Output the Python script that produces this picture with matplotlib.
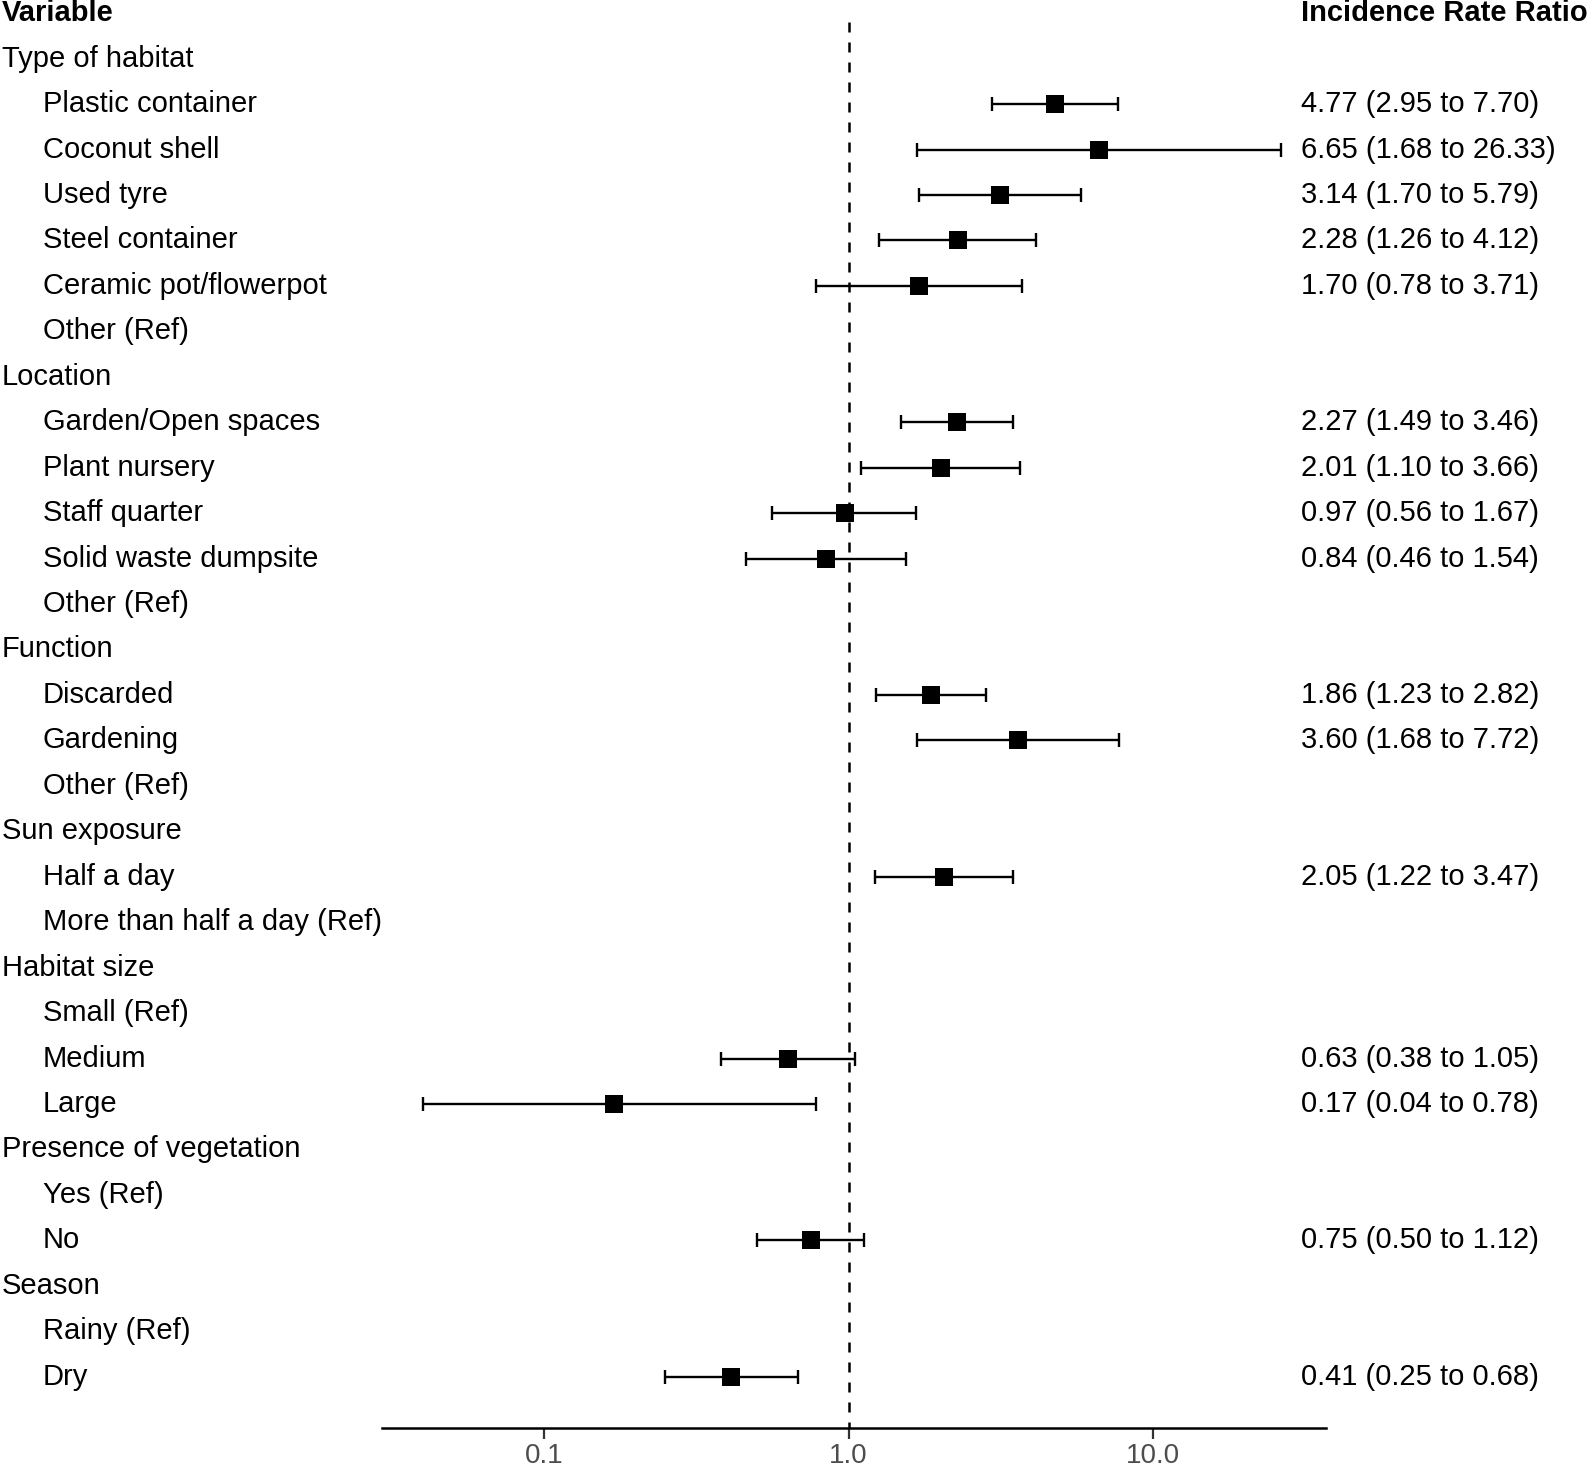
import numpy as np
import matplotlib.pyplot as plt
from matplotlib.transforms import blended_transform_factory

# rows of the table
labels = [
    "Type of habitat", "Plastic container", "Coconut shell", "Used tyre",
    "Steel container", "Ceramic pot/flowerpot", "Other (Ref)",
    "Location", "Garden/Open spaces", "Plant nursery", "Staff quarter",
    "Solid waste dumpsite", "Other (Ref)",
    "Function", "Discarded", "Gardening", "Other (Ref)",
    "Sun exposure", "Half a day", "More than half a day (Ref)",
    "Habitat size", "Small (Ref)", "Medium", "Large",
    "Presence of vegetation", "Yes (Ref)", "No",
    "Season", "Rainy (Ref)", "Dry",
]
headers = ["Type of habitat", "Location", "Function", "Sun exposure",
           "Habitat size", "Presence of vegetation", "Season"]

# incidence rate ratios (None = reference / header row)
irr = [None, 4.77, 6.65, 3.14, 2.28, 1.70, None,
       None, 2.27, 2.01, 0.97, 0.84, None,
       None, 1.86, 3.60, None,
       None, 2.05, None,
       None, None, 0.63, 0.17,
       None, None, 0.75,
       None, None, 0.41]
lower = [None, 2.95, 1.68, 1.70, 1.26, 0.78, None,
         None, 1.49, 1.10, 0.56, 0.46, None,
         None, 1.23, 1.68, None,
         None, 1.22, None,
         None, None, 0.38, 0.04,
         None, None, 0.50,
         None, None, 0.25]
upper = [None, 7.70, 26.33, 5.79, 4.12, 3.71, None,
         None, 3.46, 3.66, 1.67, 1.54, None,
         None, 2.82, 7.72, None,
         None, 3.47, None,
         None, None, 1.05, 0.78,
         None, None, 1.12,
         None, None, 0.68]

W, H = 1594, 1469
fig = plt.figure(figsize=(W / 100, H / 100), dpi=100)
plt.rcParams['font.family'] = ['Liberation Sans', 'DejaVu Sans']
fs = 21

ax_left, ax_right = 382 / W, 1326 / W
ax_bottom = 1 - 1428 / H
ax = fig.add_axes([ax_left, ax_bottom, ax_right - ax_left, 1 - ax_bottom])
ax.set_xscale('log')
ax.set_xlim(0.0293, 37.0)
ax.set_ylim(31.13, -0.29)

rows = np.arange(1, len(labels) + 1)

# dashed null line
ax.vlines(1.0, 0.2, 31.13, colors='black', linestyles=(0, (4, 4)), linewidth=1.8)

for r, est, lo, hi in zip(rows, irr, lower, upper):
    if est is None:
        continue
    ax.errorbar(est, r, xerr=[[est - lo], [hi - est]], fmt='none', ecolor='black',
                capsize=4.8, elinewidth=1.7, capthick=1.7)
    ax.plot(est, r, 's', color='black', ms=13.5, mew=0)

for s in ['top', 'left', 'right']:
    ax.spines[s].set_visible(False)
ax.spines['bottom'].set_linewidth(1.8)
ax.set_yticks([])
ax.set_xticks([0.1, 1.0, 10.0])
ax.set_xticklabels(["0.1", "1.0", "10.0"], fontsize=20, color='#4d4d4d')
ax.xaxis.set_minor_locator(plt.NullLocator())
ax.tick_params(axis='x', length=8, width=1.6, pad=3, color='#333333')

# text columns
tr = blended_transform_factory(fig.transFigure, ax.transData)
ax.text(2 / W, 0, "Variable", transform=tr, fontsize=fs, fontweight='bold',
        va='center', ha='left', clip_on=False)
ax.text(1301 / W, 0, "Incidence Rate Ratio", transform=tr, fontsize=fs,
        fontweight='bold', va='center', ha='left', clip_on=False)
for r, lab, est, lo, hi in zip(rows, labels, irr, lower, upper):
    x = 2 / W if lab in headers else 43 / W
    ax.text(x, r, lab, transform=tr, fontsize=fs, va='center', ha='left', clip_on=False)
    if est is not None:
        ax.text(1301 / W, r, f"{est:.2f} ({lo:.2f} to {hi:.2f})", transform=tr,
                fontsize=fs, va='center', ha='left', clip_on=False)

fig.savefig("out.png", dpi=100)
